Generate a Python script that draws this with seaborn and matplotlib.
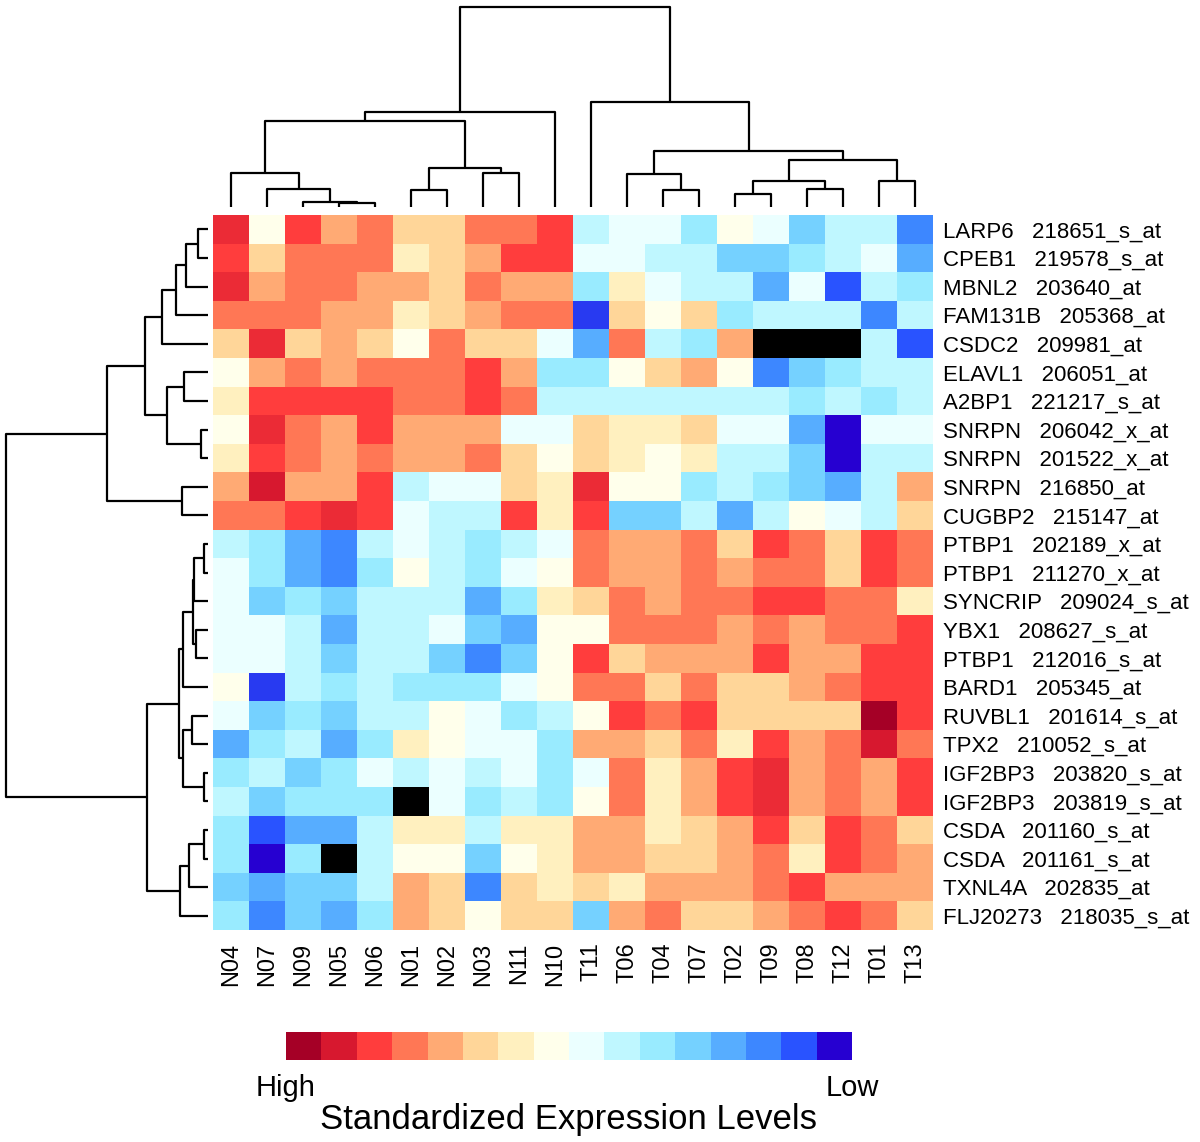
import numpy as np
import pandas as pd
import matplotlib
matplotlib.use("Agg")
import matplotlib.pyplot as plt
import seaborn as sns
from matplotlib.colors import LinearSegmentedColormap

# column (sample) order as displayed
normal_cols = ["N04", "N07", "N09", "N05", "N06", "N01", "N02", "N03", "N11", "N10"]
tumor_cols = ["T11", "T06", "T04", "T07", "T02", "T09", "T08", "T12", "T01", "T13"]

genes = ["LARP6", "CPEB1", "MBNL2", "FAM131B", "CSDC2", "ELAVL1", "A2BP1",
         "SNRPN", "SNRPN", "SNRPN", "CUGBP2", "PTBP1", "PTBP1", "SYNCRIP",
         "YBX1", "PTBP1", "BARD1", "RUVBL1", "TPX2", "IGF2BP3", "IGF2BP3",
         "CSDA", "CSDA", "TXNL4A", "FLJ20273"]
probes = ["218651_s_at", "219578_s_at", "203640_at", "205368_at", "209981_at",
          "206051_at", "221217_s_at", "206042_x_at", "201522_x_at", "216850_at",
          "215147_at", "202189_x_at", "211270_x_at", "209024_s_at", "208627_s_at",
          "212016_s_at", "205345_at", "201614_s_at", "210052_s_at", "203820_s_at",
          "203819_s_at", "201160_s_at", "201161_s_at", "202835_at", "218035_s_at"]

# colour level per cell: 1 = High (dark red) ... 16 = Low (dark blue), nan = missing
nan = np.nan
normal_levels = [
    [2.5, 8, 3, 5, 4, 6, 6, 4, 4, 3],
    [3, 6, 4, 4, 4, 7, 6, 5, 3, 3],
    [2.5, 5, 4, 4, 5, 5, 6, 4, 5, 5],
    [4, 4, 4, 5, 5, 7, 6, 5, 4, 4],
    [6, 2.5, 6, 5, 6, 8, 4, 6, 6, 9],
    [8, 5, 4, 5, 4, 4, 4, 3, 5, 11],
    [7, 3, 3, 3, 3, 4, 4, 3, 4, 10],
    [8, 2.5, 4, 5, 3, 5, 5, 5, 9, 9],
    [7, 3, 4, 5, 4, 5, 5, 4, 6, 8],
    [5, 2, 5, 5, 3, 10, 9, 9, 6, 7],
    [4, 4, 3, 2.5, 3, 9, 10, 10, 3, 7],
    [10, 11, 13, 14, 10, 9, 10, 11, 10, 9],
    [9, 11, 13, 14, 11, 8, 10, 11, 9, 8],
    [9, 12, 11, 12, 10, 10, 10, 13, 11, 7],
    [9, 9, 10, 13, 10, 10, 9, 12, 13, 8],
    [9, 9, 10, 12, 10, 10, 12, 14, 12, 8],
    [8, 15.3, 10, 11, 10, 11, 11, 11, 9, 8],
    [9, 12, 11, 12, 10, 10, 8, 9, 11, 10],
    [13, 11, 10, 13, 11, 7, 8, 9, 9, 11],
    [11, 10, 12, 11, 9, 10, 9, 10, 9, 11],
    [10, 12, 11, 11, 11, nan, 9, 11, 10, 11],
    [11, 15, 13, 13, 10, 7, 7, 10, 7, 7],
    [11, 16, 11, nan, 10, 8, 8, 12, 8, 7],
    [12, 13, 12, 12, 10, 5, 6, 14, 6, 7],
    [11, 14, 12, 13, 11, 5, 6, 8, 6, 6],
]
tumor_levels = [
    [10, 9, 9, 11, 8, 9, 12, 10, 10, 14],
    [9, 9, 10, 10, 12, 12, 11, 10, 9, 13],
    [11, 7, 9, 10, 10, 13, 9, 15, 10, 11],
    [15.3, 6, 8, 6, 11, 10, 10, 10, 14, 10],
    [13, 4, 10, 11, 5, nan, nan, nan, 10, 15],
    [11, 8, 6, 5, 8, 14, 12, 11, 10, 10],
    [10, 10, 10, 10, 10, 10, 11, 10, 11, 10],
    [6, 7, 7, 6, 9, 9, 13, 16, 9, 9],
    [6, 7, 8, 7, 10, 10, 12, 16, 10, 10],
    [2.5, 8, 8, 11, 10, 11, 12, 13, 10, 5],
    [3, 12, 12, 10, 13, 10, 8, 9, 10, 6],
    [4, 5, 5, 4, 6, 3, 4, 6, 3, 4],
    [4, 5, 5, 4, 5, 4, 4, 6, 3, 4],
    [6, 4, 5, 4, 4, 3, 3, 4, 4, 7],
    [8, 4, 4, 4, 5, 4, 5, 4, 4, 3],
    [3, 6, 5, 5, 5, 3, 5, 5, 3, 3],
    [4, 4, 6, 4, 6, 6, 5, 4, 3, 3],
    [8, 3, 4, 3, 6, 6, 6, 6, 1, 3],
    [5, 5, 6, 4, 7, 3, 5, 4, 2, 4],
    [9, 4, 7, 5, 3, 2.5, 5, 4, 5, 3],
    [8, 4, 7, 5, 3, 2.5, 5, 4, 5, 3],
    [5, 5, 7, 6, 5, 3, 6, 3, 4, 6],
    [5, 5, 6, 6, 5, 4, 7, 3, 4, 5],
    [6, 7, 5, 5, 5, 4, 3, 5, 5, 5],
    [12, 5, 4, 6, 6, 5, 4, 3, 4, 6],
]

# dendrogram merges (child a, child b, height); leaves = display positions
col_merges = [
    (3, 4, 12), (2, 20, 15), (1, 21, 54), (0, 22, 101),
    (5, 6, 50), (7, 8, 101), (24, 25, 117), (23, 26, 260), (27, 9, 287),
    (12, 13, 52), (11, 29, 99), (14, 15, 40), (16, 17, 53), (31, 32, 77),
    (18, 19, 77), (33, 34, 142), (30, 35, 169), (10, 36, 315), (28, 37, 602),
]
row_merges = [
    (0, 1, 31), (25, 2, 65), (26, 3, 97), (27, 4, 139),
    (5, 6, 73), (7, 8, 21), (29, 30, 123), (28, 31, 190),
    (9, 10, 79), (32, 33, 305),
    (11, 12, 13), (35, 13, 42), (14, 15, 35), (36, 37, 45), (38, 16, 76),
    (17, 18, 47), (19, 20, 13), (40, 41, 74), (39, 42, 87),
    (21, 22, 13), (44, 23, 58), (45, 24, 85), (43, 46, 183),
    (34, 47, 607),
]

palette = ["#A50026", "#D7182F", "#FF3D3D", "#FF7755", "#FFAA74", "#FFD699",
           "#FFF0BF", "#FFFFEB", "#EBFFFF", "#BFF7FF", "#99EBFF", "#75D1FF",
           "#57ADFF", "#3D87FF", "#2953FF", "#2600D1"]

sns.set_theme(style="white")
plt.rcParams["font.family"] = ["Liberation Sans", "DejaVu Sans"]
plt.rcParams["text.color"] = "black"
plt.rcParams["xtick.color"] = "black"
plt.rcParams["ytick.color"] = "black"

cmap = LinearSegmentedColormap.from_list("expr", palette, N=151)

row_names = [g + "   " + p for g, p in zip(genes, probes)]
df = pd.DataFrame(np.hstack([np.array(normal_levels), np.array(tumor_levels)]),
                  index=row_names, columns=normal_cols + tumor_cols)


def dendro_segments(merges, n):
    pos = {i: i + 0.5 for i in range(n)}
    hgt = {i: 0.0 for i in range(n)}
    segs = []
    for k, (a, b, h) in enumerate(merges):
        segs.append(([pos[a], pos[a], pos[b], pos[b]], [hgt[a], h, h, hgt[b]]))
        pos[n + k] = (pos[a] + pos[b]) / 2
        hgt[n + k] = h
    return segs


W, H = 1200, 1142
fig = plt.figure(figsize=(W / 100, H / 100), dpi=100)


def px_axes(x0, y0, x1, y1):
    return fig.add_axes([x0 / W, 1 - y1 / H, (x1 - x0) / W, (y1 - y0) / H])


# main heatmap
ax = px_axes(213, 215, 933, 930)
ax.set_facecolor("black")
sns.heatmap(df, ax=ax, cmap=cmap, vmin=1, vmax=16, cbar=False,
            mask=df.isna(), xticklabels=True, yticklabels=True)
ax.yaxis.tick_right()
ax.set_yticklabels(row_names, rotation=0, fontsize=16)
ax.set_xticklabels(df.columns, rotation=90, fontsize=17)
ax.tick_params(axis="y", length=0, pad=7)
ax.tick_params(axis="x", length=0, pad=9)
ax.set_xlabel("")
ax.set_ylabel("")

# top dendrogram
axt = px_axes(213, 7, 933, 207)
for xs, ys in dendro_segments(col_merges, len(df.columns)):
    axt.plot(xs, ys, color="black", lw=1.6, clip_on=False, solid_capstyle="butt")
axt.set_xlim(0, len(df.columns))
axt.set_ylim(0, 602)
axt.axis("off")

# left dendrogram
axl = px_axes(6, 215, 208, 930)
for xs, ys in dendro_segments(row_merges, len(df.index)):
    axl.plot(ys, xs, color="black", lw=1.6, clip_on=False, solid_capstyle="butt")
axl.set_ylim(len(df.index), 0)
axl.set_xlim(607, 0)
axl.axis("off")

# colour key
axc = px_axes(286, 1032, 852, 1060)
key = pd.DataFrame([np.arange(1, 17)])
sns.heatmap(key, ax=axc, cmap=cmap, vmin=1, vmax=16, cbar=False,
            xticklabels=False, yticklabels=False)
axc.text(0, 1.5, "High", ha="center", va="top", fontsize=21, transform=axc.transData)
axc.text(16, 1.5, "Low", ha="center", va="top", fontsize=21, transform=axc.transData)
axc.text(8, 2.55, "Standardized Expression Levels", ha="center", va="top",
         fontsize=25, transform=axc.transData)

fig.savefig("out.png", dpi=100)
